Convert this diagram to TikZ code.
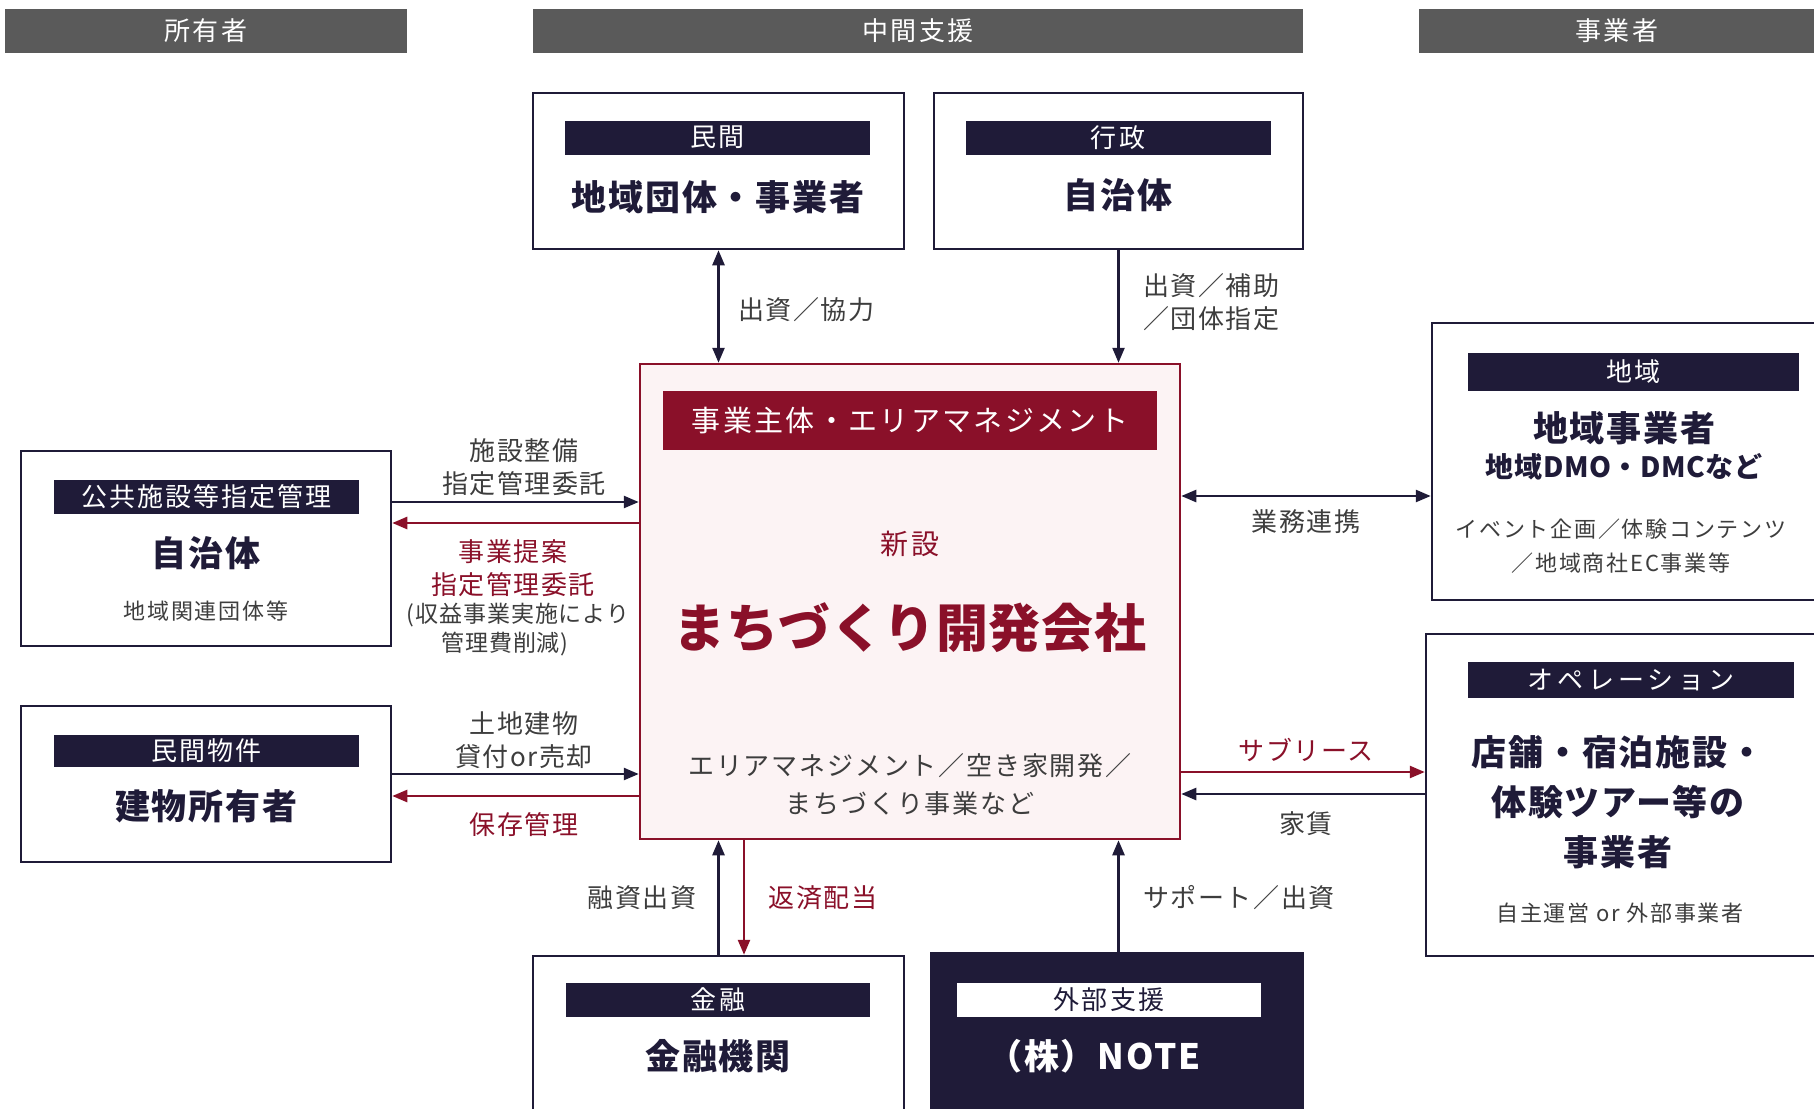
\documentclass[tikz,border=0pt]{standalone}
\usepackage{fontspec}
\setmainfont{Noto Sans CJK JP}
\usetikzlibrary{arrows.meta}
\definecolor{navy}{HTML}{1F1B38}
\definecolor{crim}{HTML}{8A1029}
\definecolor{gtxt}{HTML}{3D3D3D}
\definecolor{hgray}{HTML}{5A5A5A}
\definecolor{pinkbg}{HTML}{FCF3F4}
\newcommand\myfs[3]{\fontsize{#1}{#2}\selectfont\addfontfeature{LetterSpace=#3}}
\begin{document}
\begin{tikzpicture}[x=1pt,y=-1pt,
  >={Triangle[length=15pt,width=12pt]},
  hdr/.style={fill=hgray,text=white,inner sep=0pt,minimum height=44pt,font=\myfs{26}{30}{10}},
  boxx/.style={draw=navy,line width=2.5pt,fill=white,inner sep=0pt},
  barr/.style={fill=navy,text=white,inner sep=0pt,minimum width=305pt,minimum height=34pt,font=\myfs{26}{30}{8}},
  bigt/.style={text=navy,inner sep=0pt,align=center,font=\bfseries\myfs{35}{50}{5}},
  subt/.style={text=gtxt,inner sep=0pt,align=center,font=\myfs{22}{34}{8}},
  lbl/.style={text=gtxt,inner sep=0pt,align=center,font=\myfs{26}{33}{6}},
  rlbl/.style={text=crim,inner sep=0pt,align=center,font=\myfs{26}{33}{6}},
  arrd/.style={draw=navy,line width=2.5pt,->},
  arrr/.style={draw=crim,line width=2.5pt,->}]
\useasboundingbox (0,0) rectangle (1814,1108);
\clip (0,0) rectangle (1814,1108);

% column headers
\node[hdr,minimum width=402pt] (h1) at (206,31) {所有者};
\node[hdr,minimum width=770pt] (h2) at (918,31) {中間支援};
\node[hdr,minimum width=396pt] (h3) at (1617,31) {事業者};

% top boxes
\node[boxx,minimum width=371pt,minimum height=156pt] (bminkan) at (718.5,171) {};
\node[barr] (tminkan) at (717.5,137.5) {民間};
\node[bigt] (nminkan) at (718,197) {地域団体・事業者};

\node[boxx,minimum width=369pt,minimum height=156pt] (bgyosei) at (1118.5,171) {};
\node[barr] (tgyosei) at (1118,137.5) {行政};
\node[bigt] (ngyosei) at (1118,195) {自治体};

% center box
\node[boxx,draw=crim,fill=pinkbg,minimum width=540pt,minimum height=475pt] (ctr) at (910,601.5) {};
\node[fill=crim,text=white,inner sep=0pt,minimum width=494pt,minimum height=59pt,font=\myfs{29}{34}{8}] (ctrh) at (910,420.5) {事業主体・エリアマネジメント};
\node[text=crim,inner sep=0pt,font=\myfs{28}{32}{10}] (shinsetsu) at (910,544) {新設};
\node[text=crim,inner sep=0pt,font=\bfseries\myfs{52}{60}{1}] (title) at (910,628) {まちづくり開発会社};
\node[lbl,font=\myfs{26}{38}{7}] (ctrdesc) at (910,785) {エリアマネジメント／空き家開発／\\まちづくり事業など};

% left boxes
\node[boxx,minimum width=370pt,minimum height=195pt] (bkoukyo) at (206,548.5) {};
\node[barr] (tkoukyo) at (206.5,497) {公共施設等指定管理};
\node[bigt] (nkoukyo) at (206,553) {自治体};
\node[subt] (skoukyo) at (206,611) {地域関連団体等};

\node[boxx,minimum width=370pt,minimum height=156pt] (bbuken) at (206,784) {};
\node[barr,minimum height=32pt] (tbuken) at (206.5,751) {民間物件};
\node[bigt] (nbuken) at (206,806) {建物所有者};

% right boxes
\node[boxx,minimum width=398pt,minimum height=277pt] (bchiiki) at (1631,461.5) {};
\node[barr,minimum width=331pt,minimum height=38pt] (tchiiki) at (1633.5,372) {地域};
\node[bigt] (nchiiki) at (1624,428) {地域事業者};
\node[bigt,font=\bfseries\myfs{28}{32}{2}] (nchiiki2) at (1624,467) {地域DMO・DMCなど};
\node[subt] (schiiki) at (1621,546) {イベント企画／体験コンテンツ\\／地域商社EC事業等};

\node[boxx,minimum width=404pt,minimum height=322pt] (bop) at (1628,795) {};
\node[barr,minimum width=326pt,minimum height=36pt,font=\myfs{26}{30}{16}] (top) at (1631,680) {オペレーション};
\node[bigt] (nop) at (1618,802) {店舗・宿泊施設・\\体験ツアー等の\\事業者};
\node[subt] (sop) at (1620,913) {自主運営 or 外部事業者};

% bottom boxes
\node[boxx,minimum width=371pt,minimum height=174pt] (bkinyu) at (718.5,1043) {};
\node[barr,minimum width=304pt] (tkinyu) at (718,1000) {金融};
\node[bigt] (nkinyu) at (718,1056) {金融機関};

\node[boxx,fill=navy,minimum width=372pt,minimum height=177pt] (bnote) at (1117,1041.5) {};
\node[barr,fill=white,text=navy,minimum width=304pt] (tnote) at (1109,1000) {外部支援};
\node[bigt,text=white] (nnote) at (1094,1056) {（株）NOTE};

% helper levels
\coordinate (yA) at (0,502);
\coordinate (yB) at (0,523);
\coordinate (yC) at (0,774);
\coordinate (yD) at (0,796);
\coordinate (yE) at (0,496);
\coordinate (yF) at (0,772);
\coordinate (yG) at (0,794);
\coordinate (xR) at (744,0);

% connectors top
\draw[arrd,<->] (bminkan.south) -- (bminkan.south |- ctr.north);
\draw[arrd] (bgyosei.south) -- (bgyosei.south |- ctr.north);
\node[lbl,anchor=west] (lminkan) at (738,310) {出資／協力};
\node[lbl,anchor=west,align=left] (lgyosei) at (1143,302.5) {出資／補助\\／団体指定};

% connectors left
\draw[arrd] (bkoukyo.east |- yA) -- (ctr.west |- yA);
\draw[arrr] (ctr.west |- yB) -- (bkoukyo.east |- yB);
\node[lbl] (lkoukyo1) at (524,467) {施設整備\\指定管理委託};
\node[rlbl] (lkoukyo2) at (513,568.5) {事業提案\\指定管理委託};
\node[lbl,font=\myfs{23}{28}{4}] (lkoukyo3) at (518,615) {(収益事業実施により};
\node[lbl,font=\myfs{23}{28}{4}] (lkoukyo4) at (505,644) {管理費削減)};

\draw[arrd] (bbuken.east |- yC) -- (ctr.west |- yC);
\draw[arrr] (ctr.west |- yD) -- (bbuken.east |- yD);
\node[lbl] (lbuken1) at (524,740.5) {土地建物\\貸付or売却};
\node[rlbl] (lbuken2) at (524,825) {保存管理};

% connectors right
\draw[arrd,<->] (ctr.east |- yE) -- (bchiiki.west |- yE);
\node[lbl] (lchiiki) at (1306,522) {業務連携};
\draw[arrr] (ctr.east |- yF) -- (bop.west |- yF);
\draw[arrd] (bop.west |- yG) -- (ctr.east |- yG);
\node[rlbl] (lop1) at (1306,750) {サブリース};
\node[lbl] (lop2) at (1306,824) {家賃};

% connectors bottom
\draw[arrd] (bkinyu.north -| bminkan.south) -- (ctr.south -| bminkan.south);
\draw[arrr] (ctr.south -| xR) -- (bkinyu.north -| xR);
\draw[arrd] (bnote.north -| bgyosei.south) -- (ctr.south -| bgyosei.south);
\node[lbl] (lkinyu1) at (642,898) {融資出資};
\node[rlbl] (lkinyu2) at (823,898) {返済配当};
\node[lbl] (lnote) at (1239,898) {サポート／出資};
\end{tikzpicture}
\end{document}
